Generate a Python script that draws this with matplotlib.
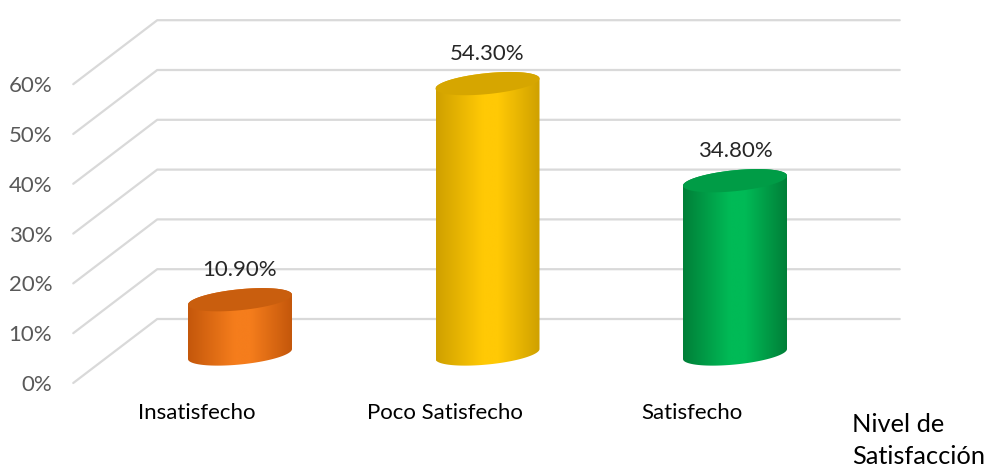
import numpy as np
import matplotlib
matplotlib.use("Agg")
import matplotlib.pyplot as plt
from matplotlib.path import Path
from matplotlib.patches import PathPatch
from matplotlib.colors import LinearSegmentedColormap

plt.rcParams['font.family'] = ['Lato', 'DejaVu Sans']

# ---- data ----
categories = ["Insatisfecho", "Poco Satisfecho", "Satisfecho"]
values = [0.109, 0.543, 0.348]
value_labels = ["10.90%", "54.30%", "34.80%"]
ticks = [0.0, 0.1, 0.2, 0.3, 0.4, 0.5, 0.6]
tick_labels = ["0%", "10%", "20%", "30%", "40%", "50%", "60%"]
axis_title = ["Nivel de", "Satisfacción"]

# cylinder shading: (edge, centre, top face)
palette = [
    ("#C4570B", "#F57D1C", "#C95E0E"),
    ("#CFA000", "#FFC905", "#D6A600"),
    ("#007F38", "#00BA56", "#009C46"),
]

W, H, DPI = 992, 468, 100
fig = plt.figure(figsize=(W / DPI, H / DPI), dpi=DPI)

# layout of the plotting plane (pixels)
X0_PX, STEP_PX = 240.0, 247.5      # first category centre, category spacing
Y0_PX, UNIT_PX = 114.0, 498.0      # baseline height from bottom, px per 1.0
XLIM = (-0.75, 2.75)
YLIM = (-0.22, 0.70)
left_px = X0_PX + XLIM[0] * STEP_PX
bottom_px = Y0_PX + YLIM[0] * UNIT_PX
ax = fig.add_axes([left_px / W, bottom_px / H,
                   (XLIM[1] - XLIM[0]) * STEP_PX / W,
                   (YLIM[1] - YLIM[0]) * UNIT_PX / H])
ax.set_xlim(*XLIM)
ax.set_ylim(*YLIM)
ax.axis("off")

px_x = STEP_PX
px_y = UNIT_PX

FRONT = (-43, -29)   # shift of the front edge of the floor, in pixels
BACK = (41, 35)      # shift of the back wall, in pixels


def shift(x, y, off):
    return x + off[0] / px_x, y + off[1] / px_y


grid_kw = dict(color="#D9D9D9", lw=1.6, solid_capstyle="round", zorder=1)
x_left, x_right = -0.5, 2.5
for t, lab in zip(ticks, tick_labels):
    bx0, by = shift(x_left, t, BACK)
    bx1, _ = shift(x_right, t, BACK)
    fx, fy = shift(x_left, t, FRONT)
    ax.plot([fx, bx0, bx1], [fy, by, by], **grid_kw)
    lx, ly = shift(x_left, t, (FRONT[0] - 21, FRONT[1] - 2))
    ax.text(lx, ly, lab, ha="right", va="center", fontsize=16,
            color="#595959")

# cylinders
half_w = 52 / px_x
semi_b = 10.5 / px_y
tilt = (10 / px_y) / (104 / px_x)
theta = np.linspace(0, np.pi, 80)

for i, (v, cols) in enumerate(zip(values, palette)):
    edge, mid, topc = cols
    xc = i
    # upper half of top ellipse, left to right
    tt = theta[::-1]
    top_x = xc + half_w * np.cos(tt)
    top_y = v + semi_b * np.sin(tt) + tilt * half_w * np.cos(tt)
    # lower half of bottom ellipse, right to left
    tb = -theta
    bot_x = xc + half_w * np.cos(tb)
    bot_y = 0 + semi_b * np.sin(tb) + tilt * half_w * np.cos(tb)
    body_x = np.concatenate([top_x, bot_x])
    body_y = np.concatenate([top_y, bot_y])
    verts = np.column_stack([body_x, body_y])
    body_path = Path(np.vstack([verts, verts[:1]]), closed=True)
    outline = PathPatch(body_path, facecolor="none", edgecolor="none")
    ax.add_patch(outline)

    cmap = LinearSegmentedColormap.from_list(
        f"cyl{i}", [(0, edge), (0.45, mid), (0.6, mid), (1, edge)])
    grad = np.linspace(0, 1, 256)[None, :]
    ext = [xc - half_w, xc + half_w, body_y.min(), body_y.max()]
    im = ax.imshow(grad, cmap=cmap, extent=ext, aspect="auto",
                   interpolation="bilinear", zorder=3)
    im.set_clip_path(outline)

    # top face
    tf = np.linspace(0, 2 * np.pi, 160)
    fx = xc + half_w * np.cos(tf)
    fy = v + semi_b * np.sin(tf) + tilt * half_w * np.cos(tf)
    ax.fill(fx, fy, color=topc, zorder=4, lw=0)

    # value label
    ax.text(xc, v + 30 / px_y, value_labels[i], ha="center", va="center",
            fontsize=16, color="#262626", zorder=5)

    # category label on the front edge
    cx, cy = shift(xc, 0, (FRONT[0], FRONT[1] - 30))
    ax.text(cx, cy, categories[i], ha="center", va="center", fontsize=16,
            color="#000000")

# axis title, two lines, bottom-right corner
for line, base_px in zip(axis_title, (432, 464)):
    fig.text(852 / W, 1 - base_px / H, line, ha="left", va="baseline",
             fontsize=18.3, color="#000000")

fig.savefig("out.png", dpi=DPI, facecolor="white")
